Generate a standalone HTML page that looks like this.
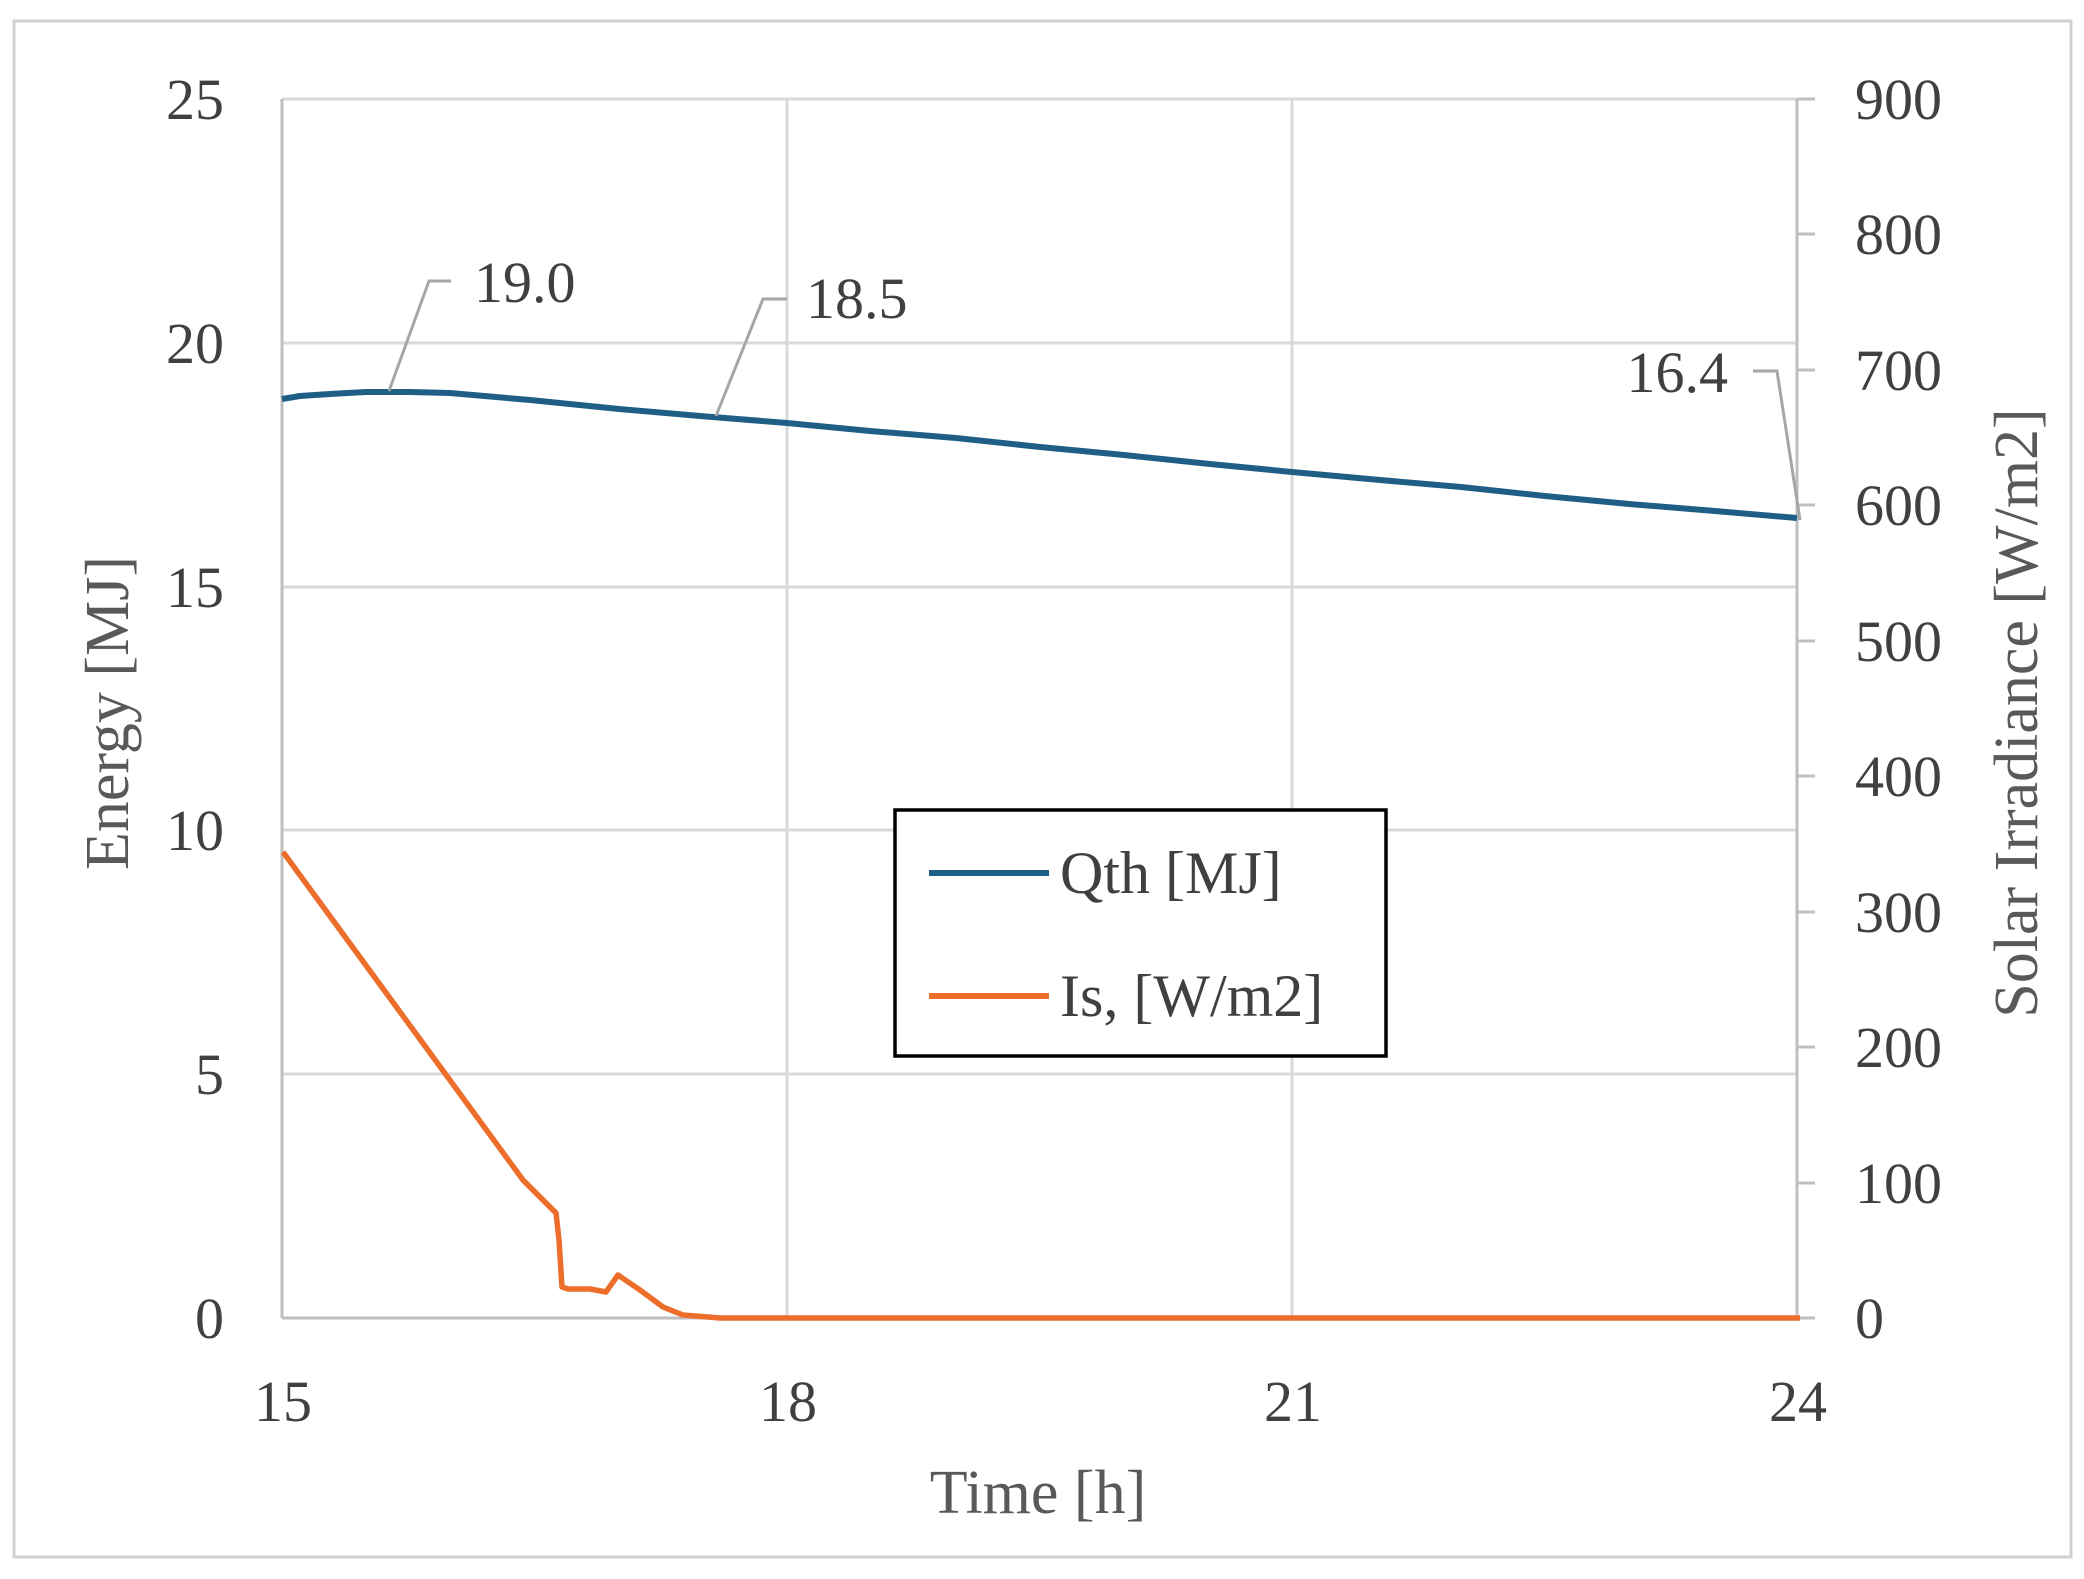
<!DOCTYPE html>
<html><head><meta charset="utf-8"><style>
html,body{margin:0;padding:0;background:#fff;}
svg{display:block;}
text{font-family:"Liberation Serif",serif;}
</style></head><body>
<svg width="2084" height="1579" viewBox="0 0 2084 1579" xmlns="http://www.w3.org/2000/svg">
<rect x="14" y="21" width="2057" height="1536" fill="#fff" stroke="#d0d0d0" stroke-width="3"/>
<g stroke="#d9d9d9" stroke-width="3" fill="none">
<line x1="282" y1="99" x2="1797" y2="99"/>
<line x1="282" y1="343" x2="1797" y2="343"/>
<line x1="282" y1="587" x2="1797" y2="587"/>
<line x1="282" y1="830" x2="1797" y2="830"/>
<line x1="282" y1="1074" x2="1797" y2="1074"/>
<line x1="787" y1="99" x2="787" y2="1318"/>
<line x1="1292" y1="99" x2="1292" y2="1318"/>
</g>
<g stroke="#bfbfbf" stroke-width="3" fill="none">
<line x1="282" y1="99" x2="282" y2="1318"/>
<line x1="282" y1="1318" x2="1815" y2="1318"/>
<line x1="1797" y1="99" x2="1797" y2="1318"/>
<line x1="1797" y1="99" x2="1815" y2="99"/>
<line x1="1797" y1="234" x2="1815" y2="234"/>
<line x1="1797" y1="370" x2="1815" y2="370"/>
<line x1="1797" y1="505" x2="1815" y2="505"/>
<line x1="1797" y1="641" x2="1815" y2="641"/>
<line x1="1797" y1="776" x2="1815" y2="776"/>
<line x1="1797" y1="912" x2="1815" y2="912"/>
<line x1="1797" y1="1047" x2="1815" y2="1047"/>
<line x1="1797" y1="1183" x2="1815" y2="1183"/>
</g>
<g font-size="58" fill="#404040" text-anchor="end">
<text x="224" y="119">25</text>
<text x="224" y="363">20</text>
<text x="224" y="607">15</text>
<text x="224" y="850">10</text>
<text x="224" y="1094">5</text>
<text x="224" y="1338">0</text>
</g>
<g font-size="58" fill="#404040" text-anchor="start">
<text x="1855" y="119">900</text>
<text x="1855" y="254">800</text>
<text x="1855" y="390">700</text>
<text x="1855" y="525">600</text>
<text x="1855" y="661">500</text>
<text x="1855" y="796">400</text>
<text x="1855" y="932">300</text>
<text x="1855" y="1067">200</text>
<text x="1855" y="1203">100</text>
<text x="1855" y="1338">0</text>
</g>
<g font-size="58" fill="#404040" text-anchor="middle">
<text x="283" y="1421">15</text>
<text x="788" y="1421">18</text>
<text x="1293" y="1421">21</text>
<text x="1798" y="1421">24</text>
</g>
<text x="1038" y="1513" font-size="62" fill="#595959" text-anchor="middle">Time [h]</text>
<text transform="translate(128,713) rotate(-90)" font-size="62" fill="#595959" text-anchor="middle">Energy [MJ]</text>
<text transform="translate(2037,713) rotate(-90)" font-size="62" fill="#595959" text-anchor="middle">Solar Irradiance [W/m2]</text>
<polyline fill="none" stroke="#1f5f86" stroke-width="6" stroke-linejoin="round" points="282,399 300,396 330,394 366,392 410,392 450,393 530,400 619,409 700,416 787,423 870,431 956,438 1040,447 1124,455 1210,464 1292,472 1380,480 1461,487 1545,496 1629,504 1715,511 1797,518"/>
<polyline fill="none" stroke="#ed6d2b" stroke-width="5.5" stroke-linejoin="round" points="283,852 523,1180 556,1213 559,1240 562,1287 568,1289 590,1289 606,1292 618,1275 640,1290 663,1307 683,1315 720,1318 1800,1318"/>
<g stroke="#a6a6a6" stroke-width="3" fill="none">
<polyline points="389,391 429,281 451,281"/>
<polyline points="716,416 763,299 787,299"/>
<polyline points="1753,371 1777,371 1800,520"/>
</g>
<g font-size="58" fill="#404040">
<text x="474" y="302">19.0</text>
<text x="806" y="318">18.5</text>
<text x="1728" y="392" text-anchor="end">16.4</text>
</g>
<rect x="895" y="810" width="491" height="246" fill="#fff" stroke="#000" stroke-width="3.5"/>
<line x1="929" y1="873" x2="1049" y2="873" stroke="#1f5f86" stroke-width="6"/>
<line x1="929" y1="996" x2="1049" y2="996" stroke="#ed6d2b" stroke-width="6"/>
<g font-size="60" fill="#404040">
<text x="1060" y="893">Qth [MJ]</text>
<text x="1060" y="1016">Is, [W/m2]</text>
</g>
</svg>
</body></html>
